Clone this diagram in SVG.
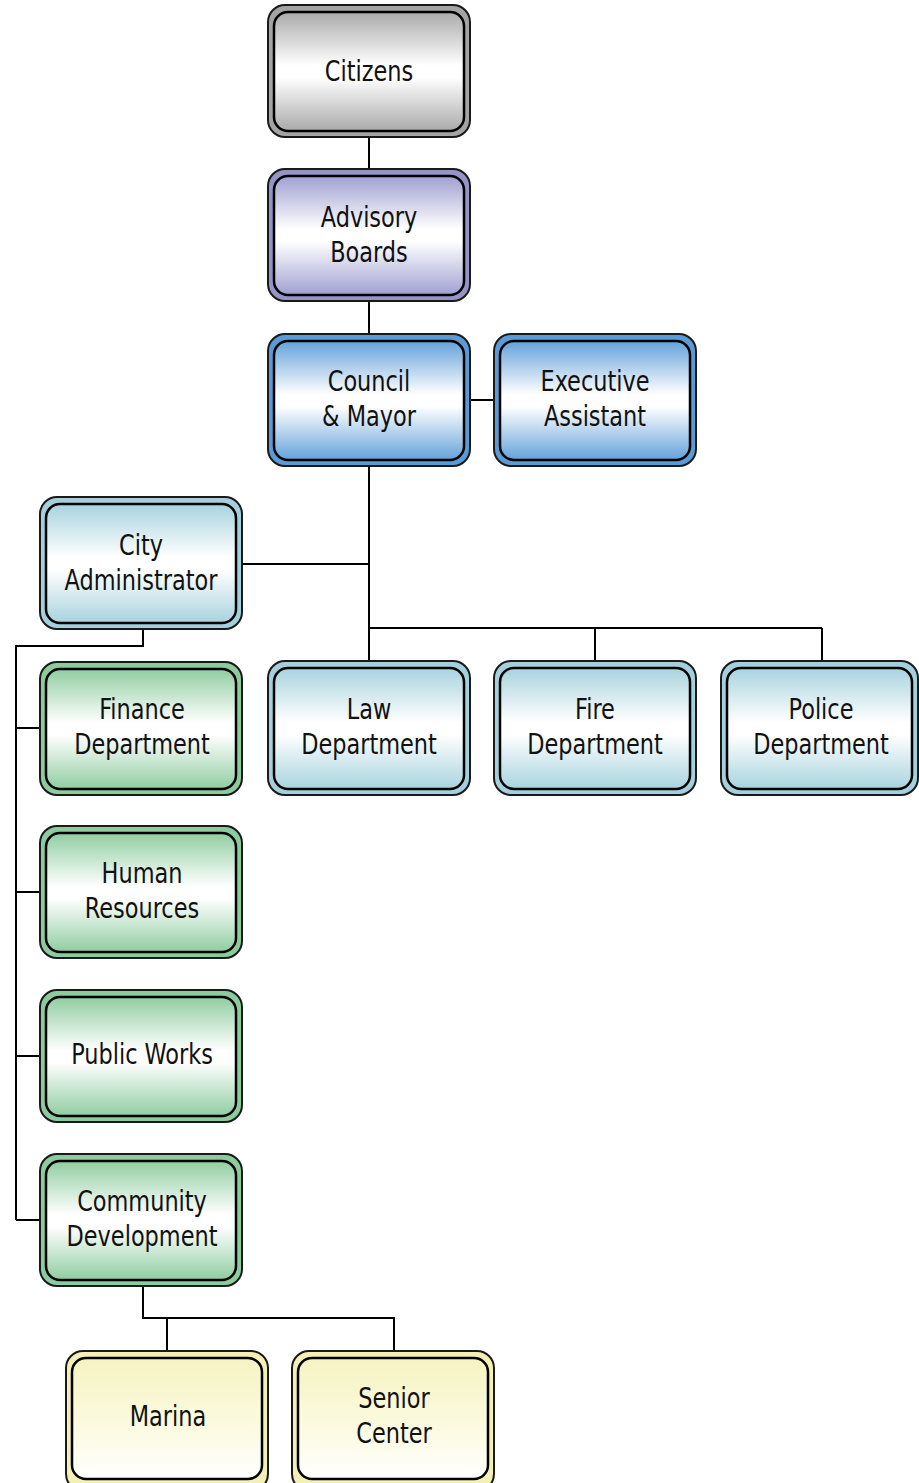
<svg xmlns="http://www.w3.org/2000/svg" width="919" height="1483" viewBox="0 0 919 1483">
<defs>
<linearGradient id="gGray" x1="0" y1="0" x2="0" y2="1">
<stop offset="0" stop-color="#aaaaaa"/><stop offset="0.45" stop-color="#ffffff"/><stop offset="0.55" stop-color="#ffffff"/><stop offset="1" stop-color="#aaaaaa"/>
</linearGradient>
<linearGradient id="gPurple" x1="0" y1="0" x2="0" y2="1">
<stop offset="0" stop-color="#a0a0d2"/><stop offset="0.45" stop-color="#ffffff"/><stop offset="0.55" stop-color="#ffffff"/><stop offset="1" stop-color="#a0a0d2"/>
</linearGradient>
<linearGradient id="gBlue" x1="0" y1="0" x2="0" y2="1">
<stop offset="0" stop-color="#64a2d9"/><stop offset="0.45" stop-color="#ffffff"/><stop offset="0.55" stop-color="#ffffff"/><stop offset="1" stop-color="#64a2d9"/>
</linearGradient>
<linearGradient id="gTeal" x1="0" y1="0" x2="0" y2="1">
<stop offset="0" stop-color="#a8d3de"/><stop offset="0.45" stop-color="#ffffff"/><stop offset="0.55" stop-color="#ffffff"/><stop offset="1" stop-color="#a8d3de"/>
</linearGradient>
<linearGradient id="gGreen" x1="0" y1="0" x2="0" y2="1">
<stop offset="0" stop-color="#90cda1"/><stop offset="0.45" stop-color="#ffffff"/><stop offset="0.55" stop-color="#ffffff"/><stop offset="1" stop-color="#90cda1"/>
</linearGradient>
<linearGradient id="gYellow" x1="0" y1="0" x2="0" y2="1">
<stop offset="0" stop-color="#f6f3c2"/><stop offset="0.6" stop-color="#fcfbe2"/><stop offset="1" stop-color="#ffffff"/>
</linearGradient>
</defs>
<style>
.outer{stroke:#1a1a1a;stroke-width:2}
.inner{stroke:#000;stroke-width:2.5}
.gray .outer{fill:#a4a4a4}.gray .inner{fill:url(#gGray)}
.purple .outer{fill:#9494c9}.purple .inner{fill:url(#gPurple)}
.blue .outer{fill:#5b9bd5}.blue .inner{fill:url(#gBlue)}
.teal .outer{fill:#a3d0dc}.teal .inner{fill:url(#gTeal)}
.green .outer{fill:#8ccb9d}.green .inner{fill:url(#gGreen)}
.yellow .outer{fill:#f3efb5}.yellow .inner{fill:url(#gYellow)}
text{font-family:"DejaVu Sans Condensed","DejaVu Sans",sans-serif;font-size:28px;fill:#111;text-anchor:middle}
.conn{stroke:#000;stroke-width:2;fill:none}
</style>
<g id="connectors" class="conn">
<path d="M369,137V170M369,301V334M470,400H494M369,466V661M242,564H369M369,628H822M595,628V661M822,628V661"/>
<path d="M143,629V646H16V1220M16,728H40M16,892H40M16,1056H40M16,1220H40"/>
<path d="M143,1286V1318H394V1352M167,1318V1352"/>
</g>
<g id="citizens" class="gray">
<rect class="outer" x="268" y="5" width="202" height="132" rx="17"/>
<rect class="inner" x="274" y="12" width="190" height="119" rx="14"/>
<text transform="translate(369,81) scale(0.89,1)">Citizens</text>
</g>
<g id="advisory-boards" class="purple">
<rect class="outer" x="268" y="169" width="202" height="132" rx="17"/>
<rect class="inner" x="274" y="176" width="190" height="119" rx="14"/>
<text transform="translate(369,227) scale(0.89,1)">Advisory</text>
<text transform="translate(369,262) scale(0.89,1)">Boards</text>
</g>
<g id="council-mayor" class="blue">
<rect class="outer" x="268" y="334" width="202" height="132" rx="17"/>
<rect class="inner" x="274" y="341" width="190" height="119" rx="14"/>
<text transform="translate(369,391) scale(0.89,1)">Council</text>
<text transform="translate(369,426) scale(0.89,1)">&amp; Mayor</text>
</g>
<g id="executive-assistant" class="blue">
<rect class="outer" x="494" y="334" width="202" height="132" rx="17"/>
<rect class="inner" x="500" y="341" width="190" height="119" rx="14"/>
<text transform="translate(595,391) scale(0.89,1)">Executive</text>
<text transform="translate(595,426) scale(0.89,1)">Assistant</text>
</g>
<g id="city-administrator" class="teal">
<rect class="outer" x="40" y="497" width="202" height="132" rx="17"/>
<rect class="inner" x="46" y="504" width="190" height="119" rx="14"/>
<text transform="translate(141,555) scale(0.89,1)">City</text>
<text transform="translate(141,590) scale(0.89,1)">Administrator</text>
</g>
<g id="law-department" class="teal">
<rect class="outer" x="268" y="661" width="202" height="134" rx="17"/>
<rect class="inner" x="274" y="668" width="190" height="121" rx="14"/>
<text transform="translate(369,719) scale(0.89,1)">Law</text>
<text transform="translate(369,754) scale(0.89,1)">Department</text>
</g>
<g id="fire-department" class="teal">
<rect class="outer" x="494" y="661" width="202" height="134" rx="17"/>
<rect class="inner" x="500" y="668" width="190" height="121" rx="14"/>
<text transform="translate(595,719) scale(0.89,1)">Fire</text>
<text transform="translate(595,754) scale(0.89,1)">Department</text>
</g>
<g id="police-department" class="teal">
<rect class="outer" x="721" y="661" width="197" height="134" rx="17"/>
<rect class="inner" x="727" y="668" width="185" height="121" rx="14"/>
<text transform="translate(821,719) scale(0.89,1)">Police</text>
<text transform="translate(821,754) scale(0.89,1)">Department</text>
</g>
<g id="finance-department" class="green">
<rect class="outer" x="40" y="662" width="202" height="133" rx="17"/>
<rect class="inner" x="46" y="669" width="190" height="120" rx="14"/>
<text transform="translate(142,719) scale(0.89,1)">Finance</text>
<text transform="translate(142,754) scale(0.89,1)">Department</text>
</g>
<g id="human-resources" class="green">
<rect class="outer" x="40" y="826" width="202" height="132" rx="17"/>
<rect class="inner" x="46" y="833" width="190" height="119" rx="14"/>
<text transform="translate(142,883) scale(0.89,1)">Human</text>
<text transform="translate(142,918) scale(0.89,1)">Resources</text>
</g>
<g id="public-works" class="green">
<rect class="outer" x="40" y="990" width="202" height="132" rx="17"/>
<rect class="inner" x="46" y="997" width="190" height="119" rx="14"/>
<text transform="translate(142,1064) scale(0.89,1)">Public Works</text>
</g>
<g id="community-development" class="green">
<rect class="outer" x="40" y="1154" width="202" height="132" rx="17"/>
<rect class="inner" x="46" y="1161" width="190" height="119" rx="14"/>
<text transform="translate(142,1211) scale(0.89,1)">Community</text>
<text transform="translate(142,1246) scale(0.89,1)">Development</text>
</g>
<g id="marina" class="yellow">
<rect class="outer" x="66" y="1351" width="202" height="140" rx="17"/>
<rect class="inner" x="72" y="1358" width="190" height="121" rx="14"/>
<text transform="translate(168,1426) scale(0.89,1)">Marina</text>
</g>
<g id="senior-center" class="yellow">
<rect class="outer" x="292" y="1351" width="202" height="140" rx="17"/>
<rect class="inner" x="298" y="1358" width="190" height="121" rx="14"/>
<text transform="translate(394,1408) scale(0.89,1)">Senior</text>
<text transform="translate(394,1443) scale(0.89,1)">Center</text>
</g>
</svg>
